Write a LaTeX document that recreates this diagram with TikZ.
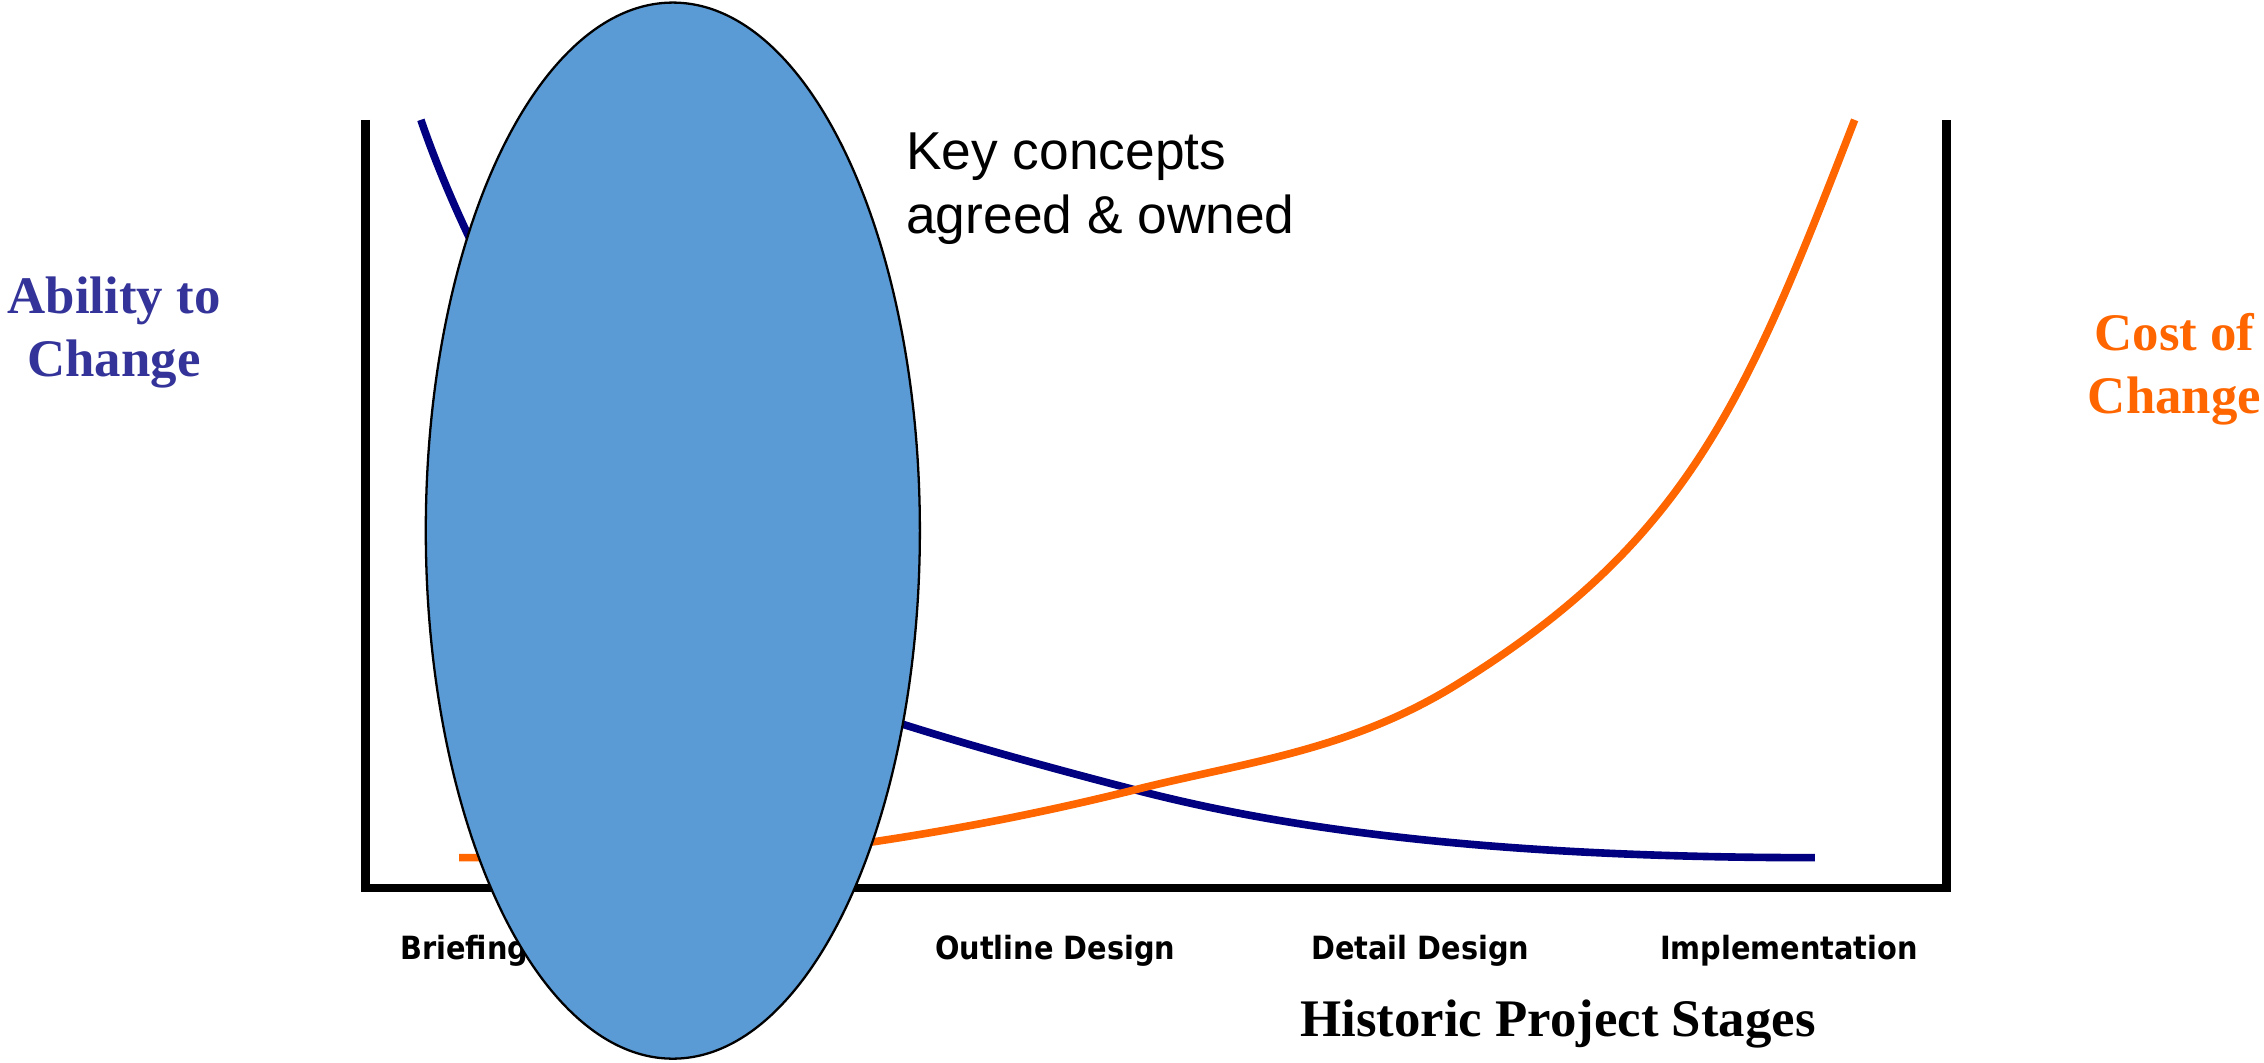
\documentclass[tikz,border=0pt]{standalone}
\usepackage{fontspec}
\setmainfont{Liberation Serif}
\newfontfamily\keyfont{Liberation Sans}
\newfontfamily\stagefont[FakeStretch=0.9]{DejaVu Sans}
\usetikzlibrary{shapes.geometric, positioning}
\definecolor{abilityblue}{RGB}{51,51,153}
\definecolor{curveblue}{RGB}{0,0,128}
\definecolor{costorange}{RGB}{255,102,0}
\definecolor{focusblue}{RGB}{91,155,213}

\begin{document}
\begin{tikzpicture}[
        x=0.01cm, y=-0.01cm,
        axisline/.style={line width=1.7pt, line join=miter},
        curveline/.style={line width=1.5pt},
        sidelabel/.style={font=\fontsize{10.4}{12.4}\selectfont\bfseries, align=center, inner sep=0pt, anchor=north},
        stagelabel/.style={font=\stagefont\fontsize{6.3}{7.5}\selectfont\bfseries, inner sep=0pt, anchor=base west}
    ]
        \useasboundingbox (0,0) rectangle (1568,736);

        \draw[axisline] (253,83) -- (253,615) -- (1348,615) -- (1348,83);

        \coordinate (cross) at (786,547);
        \draw[curveline, curveblue] (291.5,83) .. controls (340,225) and (480,457) .. (625.5,501.7)
            .. controls (679,518.5) and (732,533) .. (cross)
            .. controls (880,571.5) and (1020,594) .. (1257,594);
        \draw[curveline, costorange] (318,594) .. controls (420,594) and (545,591) .. (605,583)
            .. controls (665,574) and (726,562) .. (cross)
            .. controls (861,528) and (934,520.5) .. (1009,474)
            .. controls (1169,374.8) and (1209,278) .. (1284.5,83);

        \node[sidelabel, abilityblue] (ability) at (79,191) {Ability to\\Change};
        \node[sidelabel, costorange] (cost) at (1506,216) {Cost of\\Change};

        \node[stagelabel] (briefing) at (276.5,664.5) {Briefing};
        \node[stagelabel] (outline) at (647,664.5) {Outline Design};
        \node[stagelabel] (detail) at (907.5,664.5) {Detail Design};
        \node[stagelabel] (implementation) at (1149,664.5) {Implementation};

        \node[font=\fontsize{10.4}{12.4}\selectfont\bfseries, inner sep=0pt, anchor=base west] (stages) at (900,718) {Historic Project Stages};

        \node[ellipse, draw, line width=0.45pt, fill=focusblue, inner sep=0pt, minimum width=3.42cm, minimum height=7.31cm] (focus) at (466,367.5) {};

        \node[font=\keyfont\fontsize{10.5}{12.7}\selectfont, align=left, inner sep=0pt, anchor=north west] (concepts) at (627,91) {Key concepts\\agreed \& owned};
    \end{tikzpicture}
\end{document}
